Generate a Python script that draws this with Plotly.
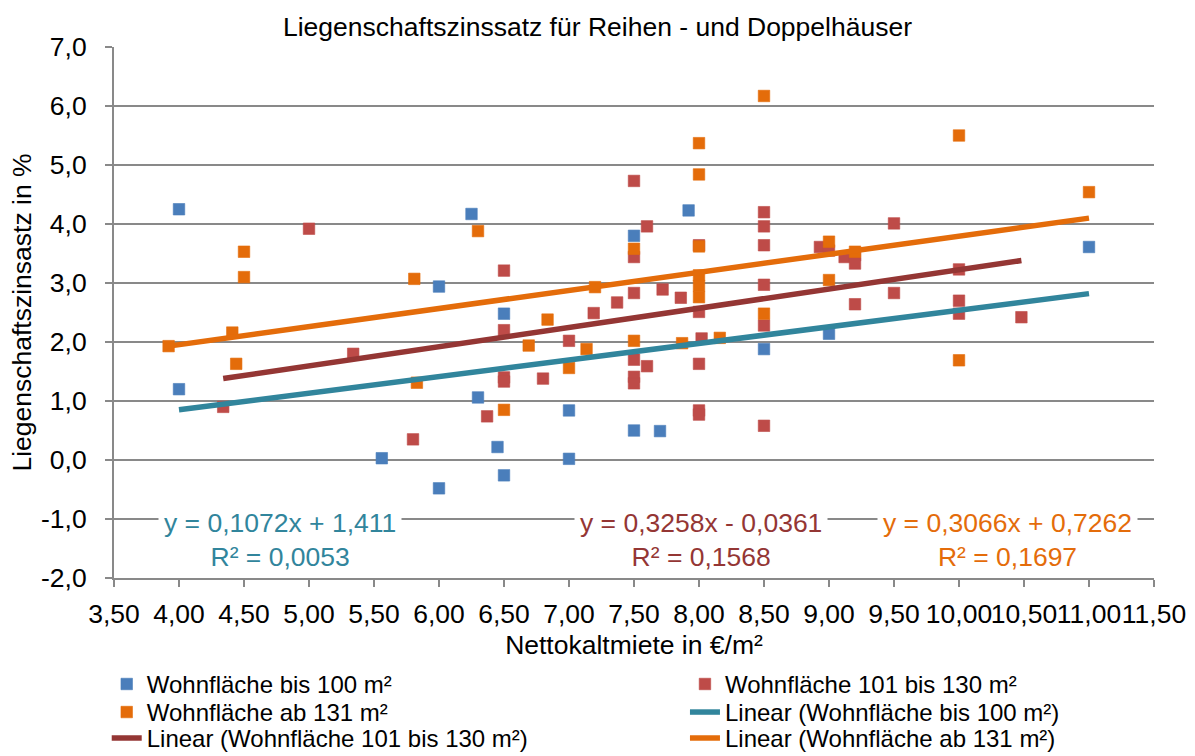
import plotly.graph_objects as go

# ---------------- data ----------------
series_names = ["Wohnfläche bis 100 m²", "Wohnfläche 101 bis 130 m²", "Wohnfläche ab 131 m²"]
trend_names = ["Linear (Wohnfläche bis 100 m²)", "Linear (Wohnfläche 101 bis 130 m²)",
               "Linear (Wohnfläche ab 131 m²)"]

blue_x = [4.00, 4.00, 6.25, 6.00, 5.56, 6.00, 6.30, 6.45, 6.50, 6.50, 7.00, 7.00,
          7.50, 7.70, 7.50, 7.92, 8.50, 9.00, 11.00]
blue_y = [4.25, 1.20, 4.17, 2.94, 0.03, -0.48, 1.06, 0.22, -0.26, 2.48, 0.84, 0.02,
          0.50, 0.49, 3.80, 4.23, 1.88, 2.14, 3.61]

red_x = [4.34, 5.00, 5.34, 5.80, 6.37, 6.50, 6.50, 6.50, 6.50, 6.80, 7.00, 7.19,
         7.37, 7.50, 7.50, 7.50, 7.50, 7.50, 7.50, 7.60, 7.60, 7.72, 7.86, 8.00,
         8.00, 8.02, 8.00, 8.00, 8.00, 8.50, 8.50, 8.50, 8.50, 8.50, 8.50, 8.93,
         9.00, 9.12, 9.20, 9.20, 9.20, 9.50, 9.50, 10.00, 10.00, 10.00, 10.48]
red_y = [0.90, 3.92, 1.80, 0.35, 0.74, 3.21, 2.20, 1.40, 1.33, 1.38, 2.02, 2.49,
         2.67, 4.73, 3.44, 2.83, 1.70, 1.41, 1.30, 3.96, 1.59, 2.89, 2.75, 3.64,
         2.51, 2.06, 1.63, 0.84, 0.77, 4.20, 3.96, 3.64, 2.97, 2.28, 0.58, 3.61,
         3.55, 3.44, 3.47, 3.33, 2.64, 4.01, 2.83, 3.23, 2.70, 2.48, 2.42]

orange_x = [3.92, 4.41, 4.44, 4.50, 4.50, 5.81, 5.83, 6.30, 6.50, 6.69, 6.835, 7.00,
            7.135, 7.20, 7.50, 7.50, 7.87, 8.00, 8.00, 8.00, 8.00, 8.00, 8.00, 8.16,
            8.50, 8.50, 9.00, 9.00, 9.20, 10.00, 10.00, 11.00]
orange_y = [1.93, 2.16, 1.63, 3.53, 3.10, 3.07, 1.31, 3.88, 0.85, 1.94, 2.38, 1.56,
            1.88, 2.93, 3.58, 2.02, 1.98, 5.37, 4.84, 3.62, 3.13, 2.95, 2.76, 2.07,
            6.17, 2.48, 3.70, 3.05, 3.53, 5.50, 1.69, 4.54]

# trend line end points as drawn in the reference
trend_blue_x = [4.00, 11.00]
trend_blue_y = [0.85, 2.82]
trend_red_x = [4.34, 10.48]
trend_red_y = [1.38, 3.38]
trend_orange_x = [3.92, 11.00]
trend_orange_y = [1.93, 4.10]

equation_texts = ["y = 0,1072x + 1,411<br>R² = 0,0053",
                  "y = 0,3258x - 0,0361<br>R² = 0,1568",
                  "y = 0,3066x + 0,7262<br>R² = 0,1697"]

y_tick_vals = [-2, -1, 0, 1, 2, 3, 4, 5, 6, 7]
y_tick_text = ["-2,0", "-1,0", "0,0", "1,0", "2,0", "3,0", "4,0", "5,0", "6,0", "7,0"]

# ---------------- styling ----------------
FONT = "Liberation Sans, Arial, sans-serif"
BIG = 26.5
marker_colors = ["#4A7EBB", "#BE4B48", "#E46C0A"]
trend_colors = ["#31859C", "#943634", "#E46C0A"]
GRID = "#898989"

# one legend box per legend cell: (column x, row y) in paper coordinates
col_x = [-0.007, 0.549]
row_y = [-0.158, -0.2108, -0.2597]

fig = go.Figure()
scatter_specs = [(blue_x, blue_y, series_names[0], marker_colors[0], "legend"),
                 (red_x, red_y, series_names[1], marker_colors[1], "legend2"),
                 (orange_x, orange_y, series_names[2], marker_colors[2], "legend3")]
for xs, ys, name, col, lg in scatter_specs:
    fig.add_trace(go.Scatter(x=xs, y=ys, mode="markers", name=name, legend=lg,
                             marker=dict(symbol="square", size=11.5, color=col,
                                         line=dict(width=0.6, color=col))))

trend_specs = [(trend_blue_x, trend_blue_y, trend_names[0], trend_colors[0], "legend4"),
               (trend_red_x, trend_red_y, trend_names[1], trend_colors[1], "legend5"),
               (trend_orange_x, trend_orange_y, trend_names[2], trend_colors[2], "legend6")]
for xs, ys, name, col, lg in trend_specs:
    fig.add_trace(go.Scatter(x=xs, y=ys, mode="lines", name=name, legend=lg,
                             line=dict(color=col, width=5.5)))

ann_pos = [0.1596, 0.5644, 0.8587]
for txt, col, px in zip(equation_texts, trend_colors, ann_pos):
    fig.add_annotation(text=txt, x=px, y=0.0715, xref="paper", yref="paper",
                       showarrow=False, font=dict(family=FONT, size=BIG, color=col),
                       bgcolor="white", borderpad=5, xanchor="center", yanchor="middle")

legend_common = dict(orientation="v", yanchor="top", xanchor="left", tracegroupgap=0,
                     font=dict(family=FONT, size=24, color="black"),
                     bgcolor="rgba(0,0,0,0)")

fig.update_layout(
    width=1195, height=756,
    margin=dict(l=114, r=41, t=47, b=178, autoexpand=False),
    paper_bgcolor="white", plot_bgcolor="white",
    separators=",.",
    font=dict(family=FONT, size=BIG, color="black"),
    title=dict(text="Liegenschaftszinssatz für Reihen - und Doppelhäuser",
               x=0.5, xanchor="center", y=0.964, yanchor="middle",
               font=dict(family=FONT, size=BIG, color="black")),
    showlegend=True,
    legend=dict(x=col_x[0], y=row_y[0], **legend_common),
    legend2=dict(x=col_x[1], y=row_y[0], **legend_common),
    legend3=dict(x=col_x[0], y=row_y[1], **legend_common),
    legend4=dict(x=col_x[1], y=row_y[1], **legend_common),
    legend5=dict(x=col_x[0], y=row_y[2], **legend_common),
    legend6=dict(x=col_x[1], y=row_y[2], **legend_common),
)
fig.update_xaxes(range=[3.5, 11.5], dtick=0.5, tick0=3.5, tickformat=".2f",
                 automargin=False,
                 showgrid=False, zeroline=False, showline=True, linecolor=GRID, linewidth=2,
                 ticks="outside", ticklen=7, tickwidth=1.5, tickcolor=GRID, tickangle=0,
                 ticklabelstandoff=4,
                 tickfont=dict(family=FONT, size=BIG, color="black"),
                 title=dict(text="Nettokaltmiete in €/m²", standoff=8,
                            font=dict(family=FONT, size=BIG, color="black")))
fig.update_yaxes(range=[-2, 7], tickmode="array", tickvals=y_tick_vals, ticktext=y_tick_text,
                 automargin=False,
                 showgrid=True, gridcolor=GRID, gridwidth=1.5, zeroline=False,
                 showline=True, linecolor=GRID, linewidth=2,
                 ticks="outside", ticklen=7, tickwidth=1.5, tickcolor=GRID,
                 ticklabelstandoff=13,
                 tickfont=dict(family=FONT, size=BIG, color="black"),
                 title=dict(text="Liegenschaftszinsastz in %", standoff=2,
                            font=dict(family=FONT, size=BIG, color="black")))

fig.write_html("out.html", config={"displayModeBar": False},
               post_script="document.body.style.margin='0';document.body.style.overflow='hidden';")
